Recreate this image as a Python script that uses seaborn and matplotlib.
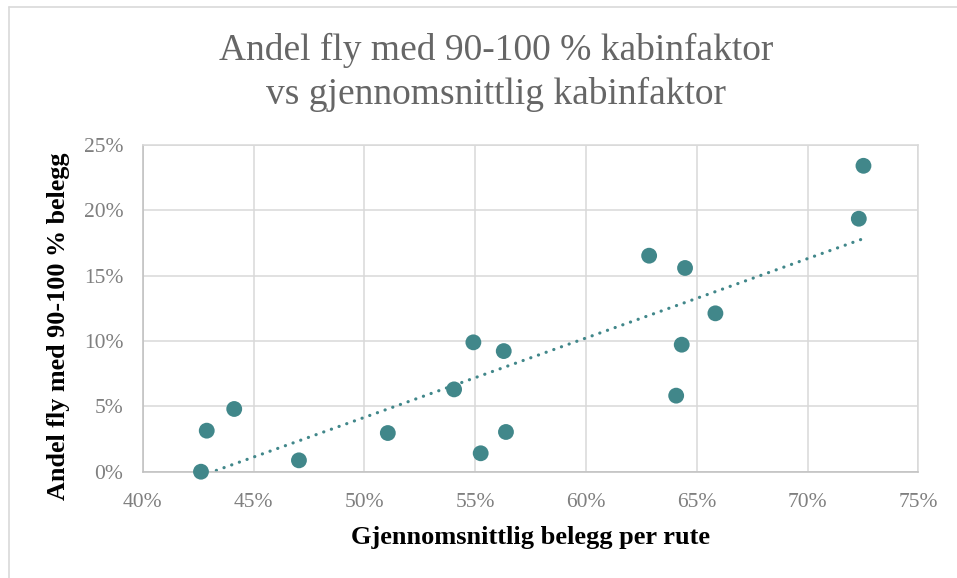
import matplotlib
matplotlib.use("Agg")
import matplotlib.pyplot as plt
from matplotlib.lines import Line2D
from matplotlib.ticker import FuncFormatter, MultipleLocator
import pandas as pd
import seaborn as sns

# gjennomsnittlig belegg per rute (%) og andel fly med 90-100 % belegg (%)
belegg = [42.63, 42.89, 44.13, 47.05, 51.06, 54.05, 54.92, 55.25, 56.29,
          56.39, 62.85, 64.47, 65.84, 64.32, 64.07, 72.31, 72.52]
andel_fullt = [0.0, 3.14, 4.8, 0.87, 2.96, 6.3, 9.9, 1.41, 9.23,
               3.04, 16.53, 15.59, 12.12, 9.72, 5.82, 19.36, 23.41]

x_ticks = [40, 45, 50, 55, 60, 65, 70, 75]
y_ticks = [0, 5, 10, 15, 20, 25]

TEAL = "#41878A"
GRID = "#D9D9D9"

df = pd.DataFrame({"belegg": belegg, "andel": andel_fullt})

sns.set_style("white")
plt.rcParams["font.family"] = ["Liberation Serif", "DejaVu Serif"]

fig = plt.figure(figsize=(9.57, 5.78), dpi=100)
ax = fig.add_axes([0.1491, 0.1839, 0.8106, 0.5652])

sns.regplot(data=df, x="belegg", y="andel", scatter=False, ci=None, ax=ax,
            line_kws={"color": TEAL, "linewidth": 2.3,
                      "linestyle": (0, (0.05, 2.5)),
                      "dash_capstyle": "round"})
sns.scatterplot(data=df, x="belegg", y="andel", color=TEAL, s=130,
                edgecolor="none", ax=ax, zorder=3, clip_on=False)

ax.set_xlim(40, 75)
ax.set_ylim(0, 25)
ax.xaxis.set_major_locator(MultipleLocator(5))
ax.yaxis.set_major_locator(MultipleLocator(5))
ax.set_xticks(x_ticks)
ax.set_yticks(y_ticks)
pct = FuncFormatter(lambda v, _: f"{v:.0f}%")
ax.xaxis.set_major_formatter(pct)
ax.yaxis.set_major_formatter(pct)
ax.tick_params(length=0, labelsize=15.5, labelcolor="#7F7F7F")
ax.tick_params(axis="x", pad=15)
ax.tick_params(axis="y", pad=14)

ax.grid(True, color=GRID, linewidth=1.1)
ax.set_axisbelow(True)
for side in ("top", "right"):
    ax.spines[side].set_color(GRID)
    ax.spines[side].set_linewidth(1.1)
for side in ("left", "bottom"):
    ax.spines[side].set_color("#BFBFBF")
    ax.spines[side].set_linewidth(1.1)

ax.set_xlabel("Gjennomsnittlig belegg per rute", fontsize=19,
              fontweight="bold", color="black")
ax.set_ylabel("Andel fly med 90-100 % belegg", fontsize=18.8,
              fontweight="bold", color="black")
ax.xaxis.set_label_coords(0.5, -0.2)
ax.yaxis.set_label_coords(-0.109, 0.446)
ax.xaxis.label.set_verticalalignment("center")
ax.yaxis.label.set_verticalalignment("center")

fig.suptitle("Andel fly med 90-100 % kabinfaktor\nvs gjennomsnittlig kabinfaktor",
             x=0.518, y=0.875, va="center", fontsize=27, color="#666666",
             linespacing=1.32)

# chart area border (cut off at right and bottom in the original)
fig.add_artist(Line2D([9 / 957, 1.0], [1 - 7 / 578, 1 - 7 / 578],
                      color=GRID, linewidth=1.2))
fig.add_artist(Line2D([9 / 957, 9 / 957], [0.0, 1 - 7 / 578],
                      color=GRID, linewidth=1.2))

fig.savefig("out.png", dpi=100)
